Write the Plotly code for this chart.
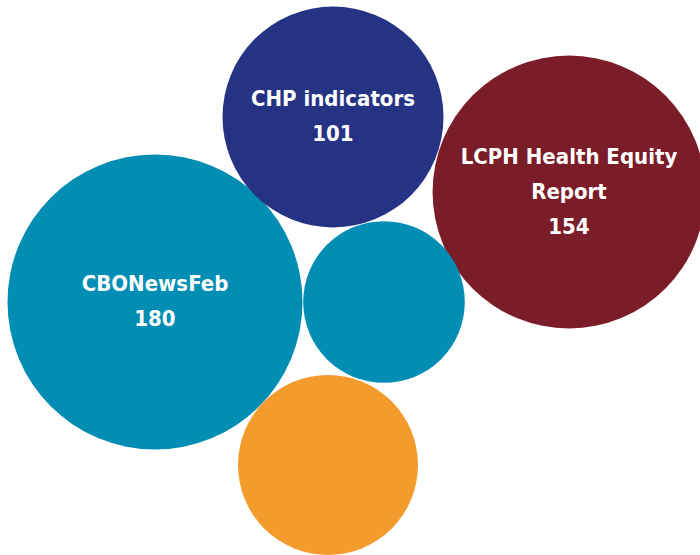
import plotly.graph_objects as go

# bubble data (last two bubbles carry no label in the source; values estimated from size)
names = ["CBONewsFeb", "CHP indicators", "LCPH Health Equity<br>Report", "", ""]
values = [180, 101, 154, 54, 67]
show_value = [True, True, True, False, False]
x_pos = [155, 333, 569, 384, 328]
y_pos = [302, 117, 192, 302, 465]
colors = ["#018DB4", "#263283", "#7B1D28", "#018DB4", "#F39B2D"]

# the outer font size sets the line spacing; the span keeps the glyphs smaller
label_style = "font-size:22px"
labels = [
    "<br>".join(f"<span style='{label_style}'>{part}</span>"
                for part in f"{n}<br>{v}".split("<br>")) if s else ""
    for n, v, s in zip(names, values, show_value)
]

# biggest bubble spans ~295 px (plotly area mode: diameter = sqrt(2 * v / sizeref))
sizeref = 2 * max(values) / 295 ** 2

fig = go.Figure(
    go.Scatter(
        x=x_pos,
        y=y_pos,
        mode="markers+text",
        text=labels,
        textposition="middle center",
        textfont=dict(
            family="DejaVu Sans Condensed, Roboto Condensed, Liberation Sans Narrow, Roboto, sans-serif",
            size=27,
            color="white",
            weight="bold",
        ),
        marker=dict(
            size=values,
            sizemode="area",
            sizeref=sizeref,
            color=colors,
            opacity=1,
            line=dict(width=0),
        ),
        hoverinfo="skip",
    )
)

fig.update_xaxes(range=[0, 700], visible=False)
fig.update_yaxes(range=[555, 0], visible=False)
fig.update_layout(
    width=700,
    height=555,
    margin=dict(l=0, r=0, t=0, b=0),
    paper_bgcolor="white",
    plot_bgcolor="white",
    showlegend=False,
)

# drop the page's default body margin so the chart sits flush at the top-left
fig.write_html(
    "out.html",
    config={"displayModeBar": False},
    post_script="document.body.style.margin = '0';",
)
